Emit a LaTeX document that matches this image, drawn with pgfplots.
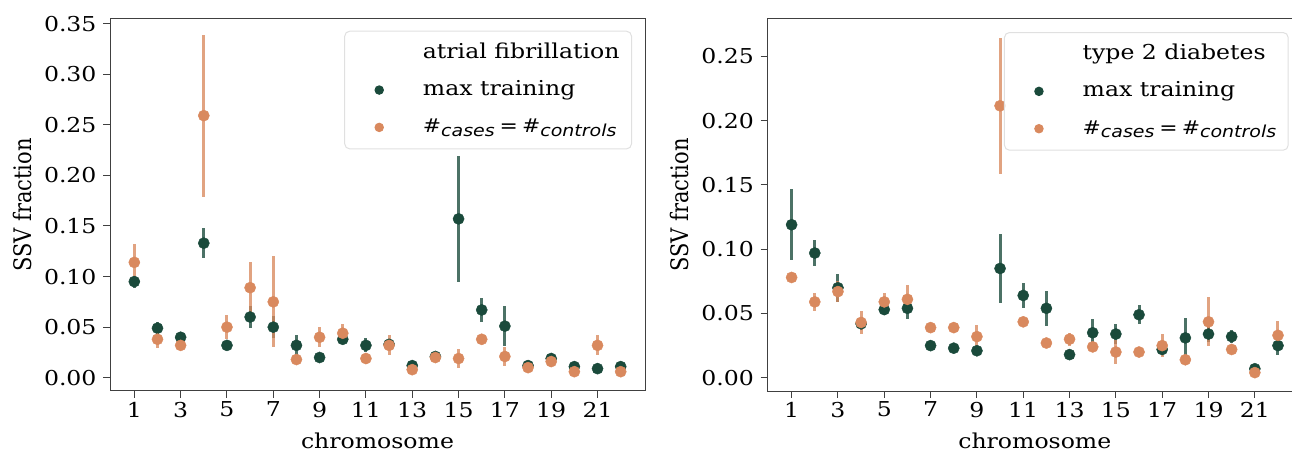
\documentclass[border=0pt]{standalone}
\usepackage{fontspec}
\setmainfont[FakeStretch=1.15]{DejaVu Serif}
\newfontfamily\plainserif{DejaVu Serif}
\newfontfamily\dvsans[FakeStretch=1.15]{DejaVu Sans}
\usepackage{graphicx}
\usepackage{pgfplots}
\pgfplotsset{compat=1.18}
\usepackage{pgfplotstable}

\definecolor{cgreen}{HTML}{1A4A3B}
\definecolor{corange}{HTML}{D9895E}

\newcommand\bigfont{\fontsize{20.5}{24}\selectfont}
\newcommand\eqlab{{\dvsans\fontsize{19}{22}\selectfont\#\raisebox{-3.5pt}{\fontsize{16.5}{18}\selectfont\itshape cases}\hspace{5pt}=\hspace{4pt}\#\raisebox{-3.5pt}{\fontsize{16.5}{18}\selectfont\itshape controls}}}

% chromosome, max training (g, ge), cases = controls (o, oe)
\pgfplotstableread{
x g ge o oe
1 0.095 0.006 0.114 0.018
2 0.049 0.006 0.038 0.009
3 0.040 0.003 0.032 0.004
4 0.133 0.015 0.259 0.080
5 0.032 0.003 0.050 0.012
6 0.060 0.011 0.089 0.025
7 0.050 0.011 0.075 0.045
8 0.032 0.010 0.018 0.002
9 0.020 0.002 0.040 0.010
10 0.038 0.004 0.044 0.009
11 0.032 0.007 0.019 0.002
12 0.033 0.005 0.032 0.010
13 0.012 0.003 0.008 0.002
14 0.021 0.002 0.020 0.002
15 0.157 0.062 0.019 0.009
16 0.067 0.012 0.038 0.004
17 0.051 0.020 0.021 0.009
18 0.012 0.002 0.010 0.002
19 0.019 0.004 0.016 0.004
20 0.011 0.002 0.006 0.002
21 0.009 0.002 0.032 0.010
22 0.011 0.003 0.006 0.002
}\afdata

\pgfplotstableread{
x g ge o oe
1 0.119 0.0275 0.078 0.002
2 0.097 0.010 0.059 0.007
3 0.070 0.011 0.067 0.008
4 0.042 0.005 0.043 0.009
5 0.053 0.004 0.059 0.007
6 0.054 0.008 0.061 0.011
7 0.025 0.002 0.039 0.003
8 0.023 0.002 0.039 0.002
9 0.021 0.002 0.032 0.009
10 0.085 0.0265 0.2115 0.053
11 0.064 0.010 0.0435 0.004
12 0.054 0.0135 0.027 0.002
13 0.018 0.002 0.030 0.005
14 0.035 0.011 0.024 0.003
15 0.034 0.008 0.020 0.009
16 0.049 0.0075 0.020 0.002
17 0.022 0.002 0.025 0.009
18 0.031 0.0155 0.014 0.002
19 0.034 0.006 0.0435 0.019
20 0.032 0.005 0.022 0.003
21 0.007 0.002 0.004 0.002
22 0.025 0.007 0.033 0.0115
}\tddata

\pgfplotsset{
  ssvax/.style={
    scale only axis, width=535pt, height=372pt, anchor=south west,
    xmin=-0.05, xmax=23.05,
    xtick={1,3,...,21},
    tick align=outside, xtick pos=bottom, ytick pos=left,
    major tick length=6.7pt,
    tick style={black!75, line width=1pt},
    axis line style={black!75, line width=1pt},
    ticklabel style={font=\bigfont},
    /pgf/number format/assume math mode=true,
    yticklabel style={/pgf/number format/.cd, fixed, fixed zerofill, precision=2, /tikz/.cd, inner xsep=6.6pt, inner ysep=0pt},
    xticklabel style={inner sep=4pt},
    xlabel={chromosome},
    xlabel style={font=\bigfont, at={(axis description cs:0.5,-0.113)}, anchor=north, inner sep=0pt},
    ylabel={\scalebox{1}[1.15]{SSV fraction}},
    ylabel style={font=\plainserif\fontsize{21}{24}\selectfont, at={(axis description cs:-0.1636,0.5)}, anchor=center, inner sep=0pt},
    legend cell align=left,
    legend image code/.code={\path (-22pt,0pt) (4pt,0pt); \fill[##1, fill opacity=1] (0pt,0pt) circle (4.2pt);},
    legend style={anchor=north east, draw=black!12, line width=1pt, rounded corners=5pt,
      fill=white, fill opacity=0.8, text opacity=1,
      inner xsep=12pt, inner ysep=10pt, font=\bigfont, row sep=14.35pt, column sep=39pt,
      nodes={inner sep=0pt, text height=17pt, text depth=6pt}},
  },
  ebar/.style={error bars/.cd, y dir=both, y explicit, error mark=none,
    error bar style={line width=3pt, draw=#1, opacity=0.78}},
}

\begin{document}
\begin{tikzpicture}
\begin{axis}[ssvax, at={(110pt,61pt)},
  ymin=-0.0131, ymax=0.3545,
  ytick={0,0.05,0.1,0.15,0.2,0.25,0.3,0.35},
  legend style={at={(0.9757,0.9685)}}]
\addplot[forget plot, only marks, mark=*, mark size=5.6pt, color=cgreen, mark options={draw=none, fill=cgreen}, ebar=cgreen]
  table[x=x, y=g, y error=ge] {\afdata};
\addplot[forget plot, only marks, mark=*, mark size=5.6pt, color=corange, mark options={draw=none, fill=corange}, ebar=corange]
  table[x=x, y=o, y error=oe] {\afdata};
\addlegendimage{empty legend}\addlegendentry{atrial fibrillation}
\addlegendimage{cgreen}\addlegendentry{max training}
\addlegendimage{corange}\addlegendentry{\eqlab}
\end{axis}

\begin{axis}[ssvax, at={(767.3pt,61pt)},
  ymin=-0.0103, ymax=0.279,
  ytick={0,0.05,0.1,0.15,0.2,0.25},
  legend style={at={(0.9745,0.965)}}]
\addplot[forget plot, only marks, mark=*, mark size=5.6pt, color=cgreen, mark options={draw=none, fill=cgreen}, ebar=cgreen]
  table[x=x, y=g, y error=ge] {\tddata};
\addplot[forget plot, only marks, mark=*, mark size=5.6pt, color=corange, mark options={draw=none, fill=corange}, ebar=corange]
  table[x=x, y=o, y error=oe] {\tddata};
\addlegendimage{empty legend}\addlegendentry{type 2 diabetes}
\addlegendimage{cgreen}\addlegendentry{max training}
\addlegendimage{corange}\addlegendentry{\eqlab}
\end{axis}
\pgfresetboundingbox
\useasboundingbox (0pt,0pt) rectangle (1292pt,452pt);
\end{tikzpicture}
\end{document}
